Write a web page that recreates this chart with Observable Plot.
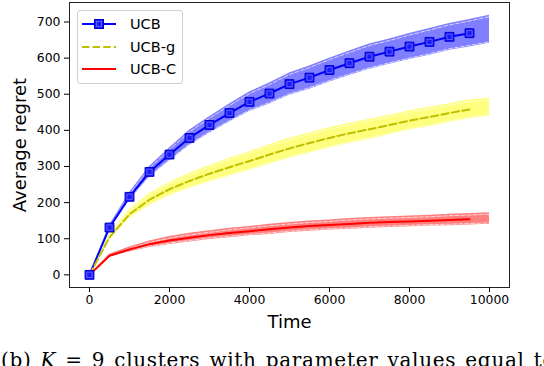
<!DOCTYPE html>
<html><head><meta charset="utf-8">
<script src="https://cdn.jsdelivr.net/npm/d3@7"></script>
<script src="https://cdn.jsdelivr.net/npm/@observablehq/plot@0.6"></script>
<style>
body{margin:0;background:#fff;}
#wrap{position:relative;width:544px;height:366px;overflow:hidden;font-family:"DejaVu Sans",sans-serif;background:#fff;}
#legend{position:absolute;left:77px;top:10px;width:104px;height:72px;border:1px solid #d0d0d0;border-radius:3px;background:rgba(255,255,255,0.8);}
.row{position:absolute;left:0;height:16px;width:104px;}
.row svg{position:absolute;left:4px;top:0;}
.row span{position:absolute;left:52px;top:-1px;font-size:14.5px;line-height:18px;color:#000;}
#caption{position:absolute;left:1px;top:350px;white-space:nowrap;font-family:"DejaVu Serif",serif;font-size:20px;line-height:20px;color:#000;letter-spacing:0.7px;word-spacing:2px;}
</style></head><body>
<div id="wrap"><div id="chart"></div>
<div id="legend">
 <div class="row" style="top:5px"><svg width="38" height="16"><line x1="0" y1="8" x2="34" y2="8" stroke="#0000ff" stroke-width="2"/><rect x="12.5" y="3.5" width="9" height="9" fill="#1a1aff" stroke="#0000cc" stroke-width="1"/><rect x="14.5" y="5.5" width="5" height="5" fill="none" stroke="#6f6fff" stroke-width="0.8"/></svg><span>UCB</span></div>
 <div class="row" style="top:28px"><svg width="38" height="16"><line x1="0" y1="8" x2="34" y2="8" stroke="#bfbf00" stroke-width="2" stroke-dasharray="7.4,3.2"/></svg><span>UCB-g</span></div>
 <div class="row" style="top:50px"><svg width="38" height="16"><line x1="0" y1="8" x2="34" y2="8" stroke="#ff0000" stroke-width="2"/></svg><span>UCB-C</span></div>
</div>
<div id="caption">(b) <i>K</i> = 9 clusters with parameter values equal to the</div>
</div>
<script>
const times = [0,500,1000,1500,2000,2500,3000,3500,4000,4500,5000,5500,6000,6500,7000,7500,8000,8500,9000,9500];
const bandTimes = [0,500,1000,1500,2000,2500,3000,3500,4000,4500,5000,5500,6000,6500,7000,7500,8000,8500,9000,9500,10000];

const ucb  = [0,131,216,285,333,379,415,448,479,502,528,546,567,586,604,618,632,645,659,669];
const ucbG = [0,104,168,208,237,260,280,298,315,333,350,365,379,392,403,415,427,437,448,458];
const ucbC = [0,53,70,85,95,103,110,116,121,126,131,135,138,141,144,146,148,150,152,154];

const ucbHigh  = [0,137,227,300,351,400,438,473,506,531,559,578,600,620,639,653,668,682,696,707,719];
const ucbLow   = [0,125,205,270,315,358,392,423,452,473,497,514,534,552,569,583,596,608,622,631,641];
const ucbGHigh = [0,112,181,225,256,281,303,323,341,360,378,393,407,420,431,442,454,464,474,484,489];
const ucbGLow  = [0,96,155,191,218,239,257,273,289,306,322,337,351,364,375,388,400,410,422,432,439];
const ucbCHigh = [0,57,77,94,106,115,122,129,134,140,145,149,152,156,159,161,163,165,168,170,172];
const ucbCLow  = [0,49,63,76,84,91,98,103,108,112,117,121,124,126,129,131,133,135,136,138,140];

const xTicks = [0,2000,4000,6000,8000,10000];
const yTicks = [0,100,200,300,400,500,600,700];

function band(hi, lo, color) {
  return [
    Plot.areaY(bandTimes, {x: bandTimes, y1: lo, y2: hi, fill: color, fillOpacity: 0.5}),
    Plot.line(bandTimes, {x: bandTimes, y: hi, stroke: "white", strokeWidth: 0.8, strokeDasharray: "4,2", dy: 1.5, strokeOpacity: 0.85}),
    Plot.line(bandTimes, {x: bandTimes, y: lo, stroke: "white", strokeWidth: 0.8, strokeDasharray: "4,2", dy: -1.5, strokeOpacity: 0.85})
  ];
}

const chart = Plot.plot({
  width: 544, height: 340,
  marginLeft: 69, marginRight: 35, marginTop: 2, marginBottom: 53,
  x: {domain: [-500, 10500]},
  y: {domain: [-35, 754]},
  style: {fontFamily: "DejaVu Sans", fontSize: "12.4px", color: "black", background: "white", overflow: "visible"},
  marks: [
    ...band(ucbHigh, ucbLow, "#0000ff"),
    ...band(ucbGHigh, ucbGLow, "#ffff00"),
    ...band(ucbCHigh, ucbCLow, "#ff0000"),
    Plot.line(times, {x: times, y: ucb, stroke: "#0000ff", strokeWidth: 2}),
    Plot.line(times, {x: times, y: ucbG, stroke: "#bfbf00", strokeWidth: 2, strokeDasharray: "7.4,3.2"}),
    Plot.line(times, {x: times, y: ucbC, stroke: "#ff0000", strokeWidth: 2}),
    Plot.dot(times, {x: times, y: ucb, symbol: "square", r: 5, fill: "#1a1aff", stroke: "#0000cc", strokeWidth: 1}),
    Plot.dot(times, {x: times, y: ucb, symbol: "square", r: 3, fill: "none", stroke: "#6f6fff", strokeWidth: 0.8}),
    Plot.frame({stroke: "#222", strokeWidth: 1}),
    Plot.axisX({ticks: xTicks, tickSize: 5, tickPadding: 3, label: null, tickFormat: d => String(d)}),
    Plot.axisY({ticks: yTicks, tickSize: 5, tickPadding: 4, label: null, tickFormat: d => String(d)}),
    Plot.text(["Time"], {frameAnchor: "bottom", dy: 28, lineAnchor: "top", fontSize: 18}),
    Plot.text(["Average regret"], {frameAnchor: "left", dx: -56, rotate: -90, textAnchor: "middle", lineAnchor: "top", fontSize: 18})
  ]
});
document.getElementById("chart").appendChild(chart);
</script>
</body></html>
